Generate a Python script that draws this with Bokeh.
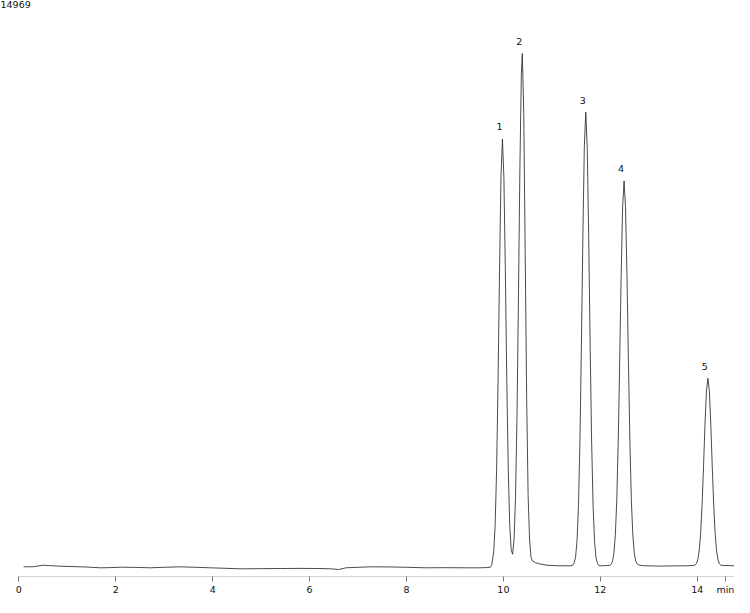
from bokeh.plotting import figure
from bokeh.models import Range1d, FixedTicker, Label, ColumnDataSource
from bokeh.core.properties import value
from bokeh.embed import file_html
from bokeh.resources import INLINE

# ---- data ----
y_top = 14969
y_max_label = "14969"
x_unit_label = "min"
tick_values = [0, 2, 4, 6, 8, 10, 12, 14]
unit_tick = 14.58

trace_t = [0.10, 0.30, 0.50, 0.70, 0.87, 1.10, 1.28, 1.50, 1.69, 1.90, 2.10, 2.40, 2.72, 3.00,
           3.34, 3.65, 3.95, 4.25, 4.57, 5.00, 5.40, 5.80, 6.20, 6.45, 6.60, 6.75, 7.00, 7.26,
           7.60, 8.00, 8.39, 8.80, 9.20, 9.50, 9.65, 9.73,
           9.76, 9.80, 9.83, 9.86, 9.89, 9.92, 9.95, 9.98, 10.01, 10.04, 10.07, 10.10, 10.13,
           10.16, 10.19, 10.22, 10.25, 10.28, 10.31, 10.34, 10.37, 10.39, 10.42, 10.45, 10.48,
           10.51, 10.54, 10.57, 10.60, 10.66, 10.75, 10.90, 11.10, 11.38,
           11.43, 11.46, 11.49, 11.52, 11.55, 11.58, 11.61, 11.64, 11.67, 11.70, 11.73, 11.76,
           11.79, 11.82, 11.85, 11.88, 11.91, 11.94, 11.97, 12.00,
           12.19, 12.22, 12.25, 12.28, 12.31, 12.34, 12.37, 12.40, 12.43, 12.46, 12.49, 12.52,
           12.55, 12.58, 12.61, 12.64, 12.67, 12.70, 12.73, 12.76, 12.80, 12.90, 13.20, 13.60, 13.80,
           13.95, 13.98, 14.01, 14.04, 14.07, 14.10, 14.13, 14.16, 14.19, 14.22, 14.25, 14.28,
           14.31, 14.34, 14.37, 14.40, 14.43, 14.46, 14.49, 14.70, 15.00]
trace_v = [452, 455, 493, 478, 467, 458, 452, 440, 427, 432, 442, 438, 427, 440,
           452, 440, 427, 415, 401, 405, 409, 412, 409, 400, 383, 427, 440, 452,
           450, 440, 427, 430, 427, 427, 432, 440,
           509, 833, 1537, 2958, 5233, 8046, 10453, 11420, 10453, 8046, 5233, 2958, 1550,
           892, 775, 1156, 2222, 4272, 7290, 10646, 13081, 13610, 12076, 8464, 4760,
           2282, 1140, 690, 600, 560, 525, 493, 480, 477,
           494, 547, 707, 1128, 2047, 3710, 6140, 8920, 11211, 12106, 11204, 8913,
           6133, 3703, 2040, 1121, 700, 540, 487, 478,
           486, 511, 587, 792, 1261, 2174, 3684, 5716, 7927, 9673, 10344, 9671,
           7925, 5714, 3682, 2172, 1290, 800, 600, 530, 495, 480, 470, 477, 478,
           493, 530, 630, 859, 1304, 2040, 3031, 4109, 4960, 5287, 4955, 4104,
           3026, 2035, 1299, 854, 625, 525, 490, 480, 476]

peak_names = ["1", "2", "3", "4", "5"]
peak_t = [9.98, 10.39, 11.70, 12.49, 14.22]
peak_v = [11420, 13610, 12106, 10344, 5287]

FONT = "DejaVu Sans"

p = figure(width=734, height=597, output_backend="svg", toolbar_location=None,
           x_range=Range1d(-0.378, 14.769), y_range=Range1d(204, y_top),
           y_axis_location=None, min_border_left=0, min_border_right=0,
           min_border_top=0, min_border_bottom=19)
p.outline_line_color = None
p.grid.visible = False
p.background_fill_color = "white"
p.border_fill_color = "white"

ax = p.xaxis[0]
ax.ticker = FixedTicker(ticks=tick_values + [unit_tick])
ax.major_label_overrides = {unit_tick: x_unit_label}
ax.bounds = (0, 15)
ax.axis_line_color = "#d4d4d4"
ax.axis_line_width = 1
ax.major_tick_line_color = "#777777"
ax.major_tick_in = 0
ax.major_tick_out = 5
ax.minor_tick_line_color = None
ax.major_label_standoff = 2
ax.major_label_text_font = FONT
ax.major_label_text_font_size = "9.5px"
ax.major_label_text_color = "#111111"

p.line(trace_t, trace_v, line_color="#2a2a2a", line_width=0.85)

src = ColumnDataSource(dict(x=peak_t, y=peak_v, t=peak_names))
p.text(x="x", y="y", text="t", source=src, x_offset=-3, y_offset=-12,
       text_align="center", text_baseline="middle",
       text_font=value(FONT), text_font_size="9.5px", text_color="#111111")

p.add_layout(Label(x=-0.378, y=y_top, text=y_max_label,
                   text_align="left", text_baseline="top",
                   text_font=FONT, text_font_size="9.5px", text_color="#111111"))

open("out.html", "w").write(file_html(p, INLINE))
